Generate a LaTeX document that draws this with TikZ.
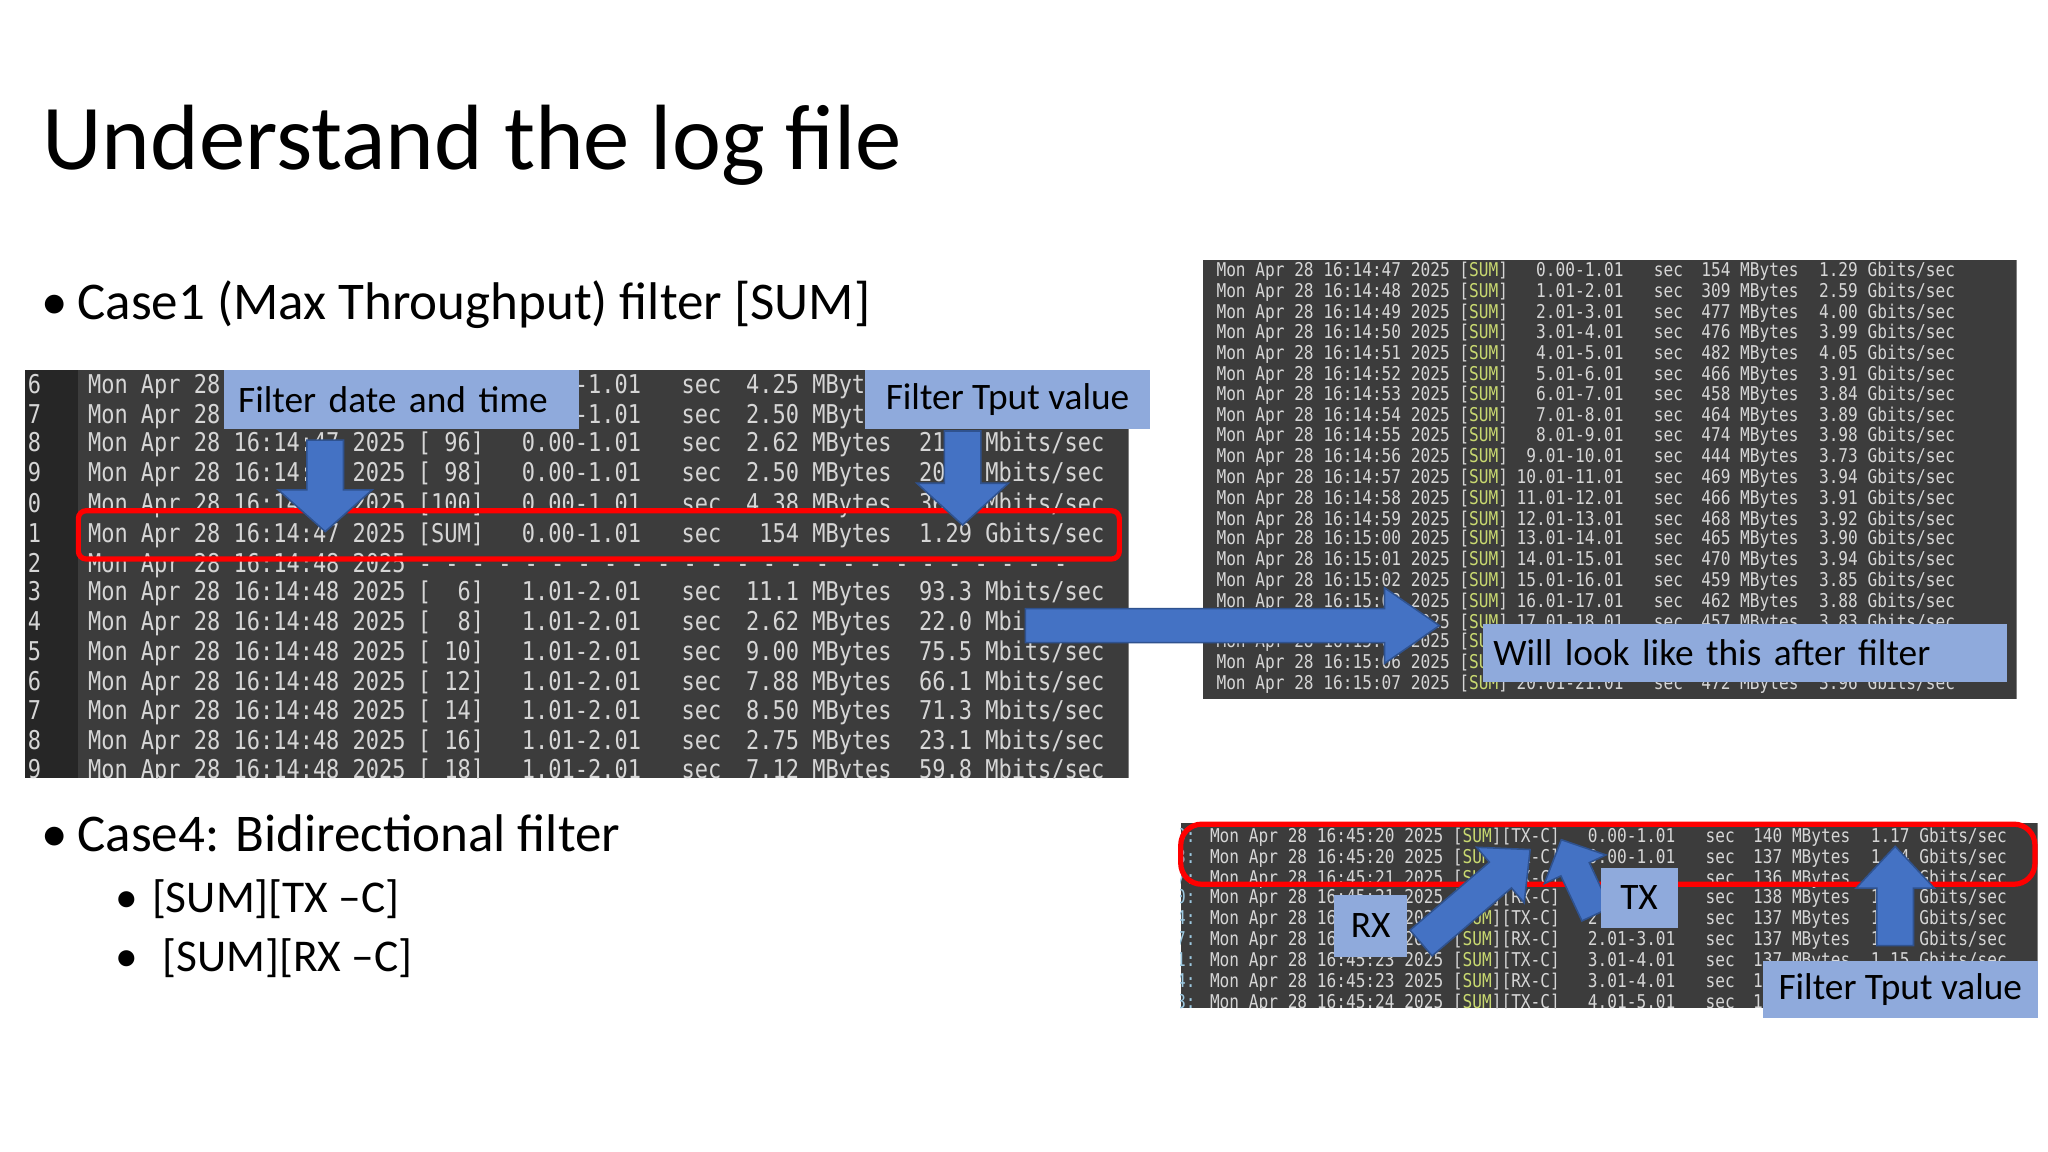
\documentclass[tikz,border=0pt]{standalone}
\usepackage{fontspec}
\setmainfont{Carlito}
\newfontfamily\logf[FakeStretch=0.85]{DejaVu Sans Mono}
\definecolor{logbg}{HTML}{3C3C3C}
\definecolor{logtxt}{HTML}{D6D6D6}
\definecolor{sumc}{HTML}{C8D870}
\definecolor{numc}{HTML}{9CC8E0}
\definecolor{lblue}{HTML}{8FAADC}
\definecolor{abl}{HTML}{4472C4}
\definecolor{abd}{HTML}{2F528F}
\tikzset{
 lt/.style={font=\logf\fontsize{9.9}{10}\selectfont,text=logtxt,inner sep=0pt},
 st/.style={font=\logf\fontsize{7.27}{8}\selectfont,text=logtxt,inner sep=0pt},
 lbl/.style={fill=lblue,inner sep=0pt,font=\fontsize{14.3}{16}\selectfont,text=black},
 arrowst/.style={fill=abl,draw=abd,line width=0.6pt},
 redbox/.style={draw=red,line width=2pt,rounded corners=3pt},
 big/.style={anchor=base west,inner sep=0,font=\fontsize{20.3}{22}\selectfont},
 small/.style={anchor=base west,inner sep=0,font=\fontsize{17.4}{19}\selectfont}
}
\newcommand\Lrow[7]{%
 \node[lt,anchor=base west] at (21,#1) {#2};
 \node[lt,anchor=base west] at (67,#1) {#3};
 \node[lt,anchor=base west] at ({67+25*10.1},#1) {#4};
 \node[lt,anchor=base east] at ({67+42*10.1},#1) {#5};
 \node[lt,anchor=base west] at ({67+45*10.1},#1) {sec};
 \node[lt,anchor=base east] at ({67+61*10.1},#1) {#6};
 \node[lt,anchor=base west] at ({67+63*10.1},#1) {#7};}
\newcommand\Rrow[5]{%
 \node[st,anchor=base west] at (931,#1) {Mon Apr 28 #2 2025};
 \node[st,anchor=base west] at ({931+25*7.44},#1) {[\textcolor{sumc}{SUM}]};
 \node[st,anchor=base east] at ({931+42*7.44},#1) {#3};
 \node[st,anchor=base west] at ({931+45*7.44},#1) {sec};
 \node[st,anchor=base east] at ({931+60*7.44},#1) {#4 MBytes};
 \node[st,anchor=base west] at ({931+62*7.44},#1) {#5 Gbits/sec};}
\newcommand\Brow[7]{%
 \node[st,anchor=base west,text=numc] at (900,#1) {#2};
 \node[st,anchor=base west] at (926,#1) {Mon Apr 28 #3 2025};
 \node[st,anchor=base west] at ({926+25*7.44},#1) {[\textcolor{sumc}{SUM}][#4]};
 \node[st,anchor=base east] at ({926+48*7.44},#1) {#5};
 \node[st,anchor=base west] at ({926+51*7.44},#1) {sec};
 \node[st,anchor=base east] at ({926+66*7.44},#1) {#6 MBytes};
 \node[st,anchor=base west] at ({926+68*7.44},#1) {#7 Gbits/sec};}
\newcommand\barrow[7]{%
 \begin{scope}[shift={(#1,#2)},rotate=#3]
 \filldraw[arrowst] (0,-#5)--({#4-#7},-#5)--({#4-#7},-#6)--(#4,0)--({#4-#7},#6)--({#4-#7},#5)--(0,#5)--cycle;
 \end{scope}}
\begin{document}
\begin{tikzpicture}[x=0.5pt,y=-0.5pt]
\useasboundingbox[fill=white] (0,0) rectangle (1568,882);
\node[anchor=base west,inner sep=0,font=\fontsize{35.5}{40}\selectfont] (title) at (32,130) {Understand the log file};
\node[big] (b1d) at (31,245) {•};
\node[big] (b1) at (59,245) {Case1 (Max Throughput) filter [SUM]};
\node[big] (b2d) at (31,652) {•};
\node[big] (b2) at (59,652) {Case4: Bidirectional filter};
\node[small] (b3d) at (88,699) {•};
\node[small] (b3) at (116,699) {[SUM][TX –C]};
\node[small] (b4d) at (88,744) {•};
\node[small] (b4) at (124,744) {[SUM][RX –C]};
\begin{scope}
\clip (19,283) rectangle (864,596);
\fill[logbg] (19,283) rectangle (864,596);
\fill[black!85] (19,283) rectangle (60,596);
\Lrow{301}{6}{Mon Apr 28 16:14:47 2025}{[~92]}{0.00-1.01}{4.25 MBytes}{35.6 Mbits/sec}
\Lrow{324}{7}{Mon Apr 28 16:14:47 2025}{[~94]}{0.00-1.01}{2.50 MBytes}{20.9 Mbits/sec}
\Lrow{346}{8}{Mon Apr 28 16:14:47 2025}{[~96]}{0.00-1.01}{2.62 MBytes}{21.9 Mbits/sec}
\Lrow{369}{9}{Mon Apr 28 16:14:47 2025}{[~98]}{0.00-1.01}{2.50 MBytes}{20.9 Mbits/sec}
\Lrow{392}{0}{Mon Apr 28 16:14:47 2025}{[100]}{0.00-1.01}{4.38 MBytes}{36.6 Mbits/sec}
\Lrow{415}{1}{Mon Apr 28 16:14:47 2025}{[SUM]}{0.00-1.01}{154 MBytes}{1.29 Gbits/sec}
\node[lt,anchor=base west] at (21,438) {2};
\node[lt,anchor=base west] at (67,438) {Mon Apr 28 16:14:48 2025 - - - - - - - - - - - - - - - - - - - - - - - - -};
\Lrow{460}{3}{Mon Apr 28 16:14:48 2025}{[~~6]}{1.01-2.01}{11.1 MBytes}{93.3 Mbits/sec}
\Lrow{483}{4}{Mon Apr 28 16:14:48 2025}{[~~8]}{1.01-2.01}{2.62 MBytes}{22.0 Mbits/sec}
\Lrow{506}{5}{Mon Apr 28 16:14:48 2025}{[~10]}{1.01-2.01}{9.00 MBytes}{75.5 Mbits/sec}
\Lrow{529}{6}{Mon Apr 28 16:14:48 2025}{[~12]}{1.01-2.01}{7.88 MBytes}{66.1 Mbits/sec}
\Lrow{551}{7}{Mon Apr 28 16:14:48 2025}{[~14]}{1.01-2.01}{8.50 MBytes}{71.3 Mbits/sec}
\Lrow{574}{8}{Mon Apr 28 16:14:48 2025}{[~16]}{1.01-2.01}{2.75 MBytes}{23.1 Mbits/sec}
\Lrow{596}{9}{Mon Apr 28 16:14:48 2025}{[~18]}{1.01-2.01}{7.12 MBytes}{59.8 Mbits/sec}
\end{scope}
\draw[redbox] (60,391) rectangle (857,428);
\begin{scope}
\clip (921,199) rectangle (1544,535);
\fill[logbg] (921,199) rectangle (1544,535);
\Rrow{212}{16:14:47}{0.00-1.01}{154}{1.29}
\Rrow{228}{16:14:48}{1.01-2.01}{309}{2.59}
\Rrow{244}{16:14:49}{2.01-3.01}{477}{4.00}
\Rrow{259}{16:14:50}{3.01-4.01}{476}{3.99}
\Rrow{275}{16:14:51}{4.01-5.01}{482}{4.05}
\Rrow{291}{16:14:52}{5.01-6.01}{466}{3.91}
\Rrow{307}{16:14:53}{6.01-7.01}{458}{3.84}
\Rrow{323}{16:14:54}{7.01-8.01}{464}{3.89}
\Rrow{338}{16:14:55}{8.01-9.01}{474}{3.98}
\Rrow{354}{16:14:56}{9.01-10.01}{444}{3.73}
\Rrow{370}{16:14:57}{10.01-11.01}{469}{3.94}
\Rrow{386}{16:14:58}{11.01-12.01}{466}{3.91}
\Rrow{402}{16:14:59}{12.01-13.01}{468}{3.92}
\Rrow{417}{16:15:00}{13.01-14.01}{465}{3.90}
\Rrow{433}{16:15:01}{14.01-15.01}{470}{3.94}
\Rrow{449}{16:15:02}{15.01-16.01}{459}{3.85}
\Rrow{465}{16:15:03}{16.01-17.01}{462}{3.88}
\Rrow{481}{16:15:04}{17.01-18.01}{457}{3.83}
\Rrow{496}{16:15:05}{18.01-19.01}{466}{3.91}
\Rrow{512}{16:15:06}{19.01-20.01}{468}{3.93}
\Rrow{528}{16:15:07}{20.01-21.01}{472}{3.96}
\end{scope}
\begin{scope}
\clip (904,630) rectangle (1560,772);
\fill[logbg] (904,630) rectangle (1560,772);
\Brow{645}{0:}{16:45:20}{TX-C}{0.00-1.01}{140}{1.17}
\Brow{661}{3:}{16:45:20}{RX-C}{0.00-1.01}{137}{1.14}
\Brow{677}{7:}{16:45:21}{TX-C}{1.01-2.01}{136}{1.14}
\Brow{692}{0:}{16:45:21}{RX-C}{1.01-2.01}{138}{1.15}
\Brow{708}{4:}{16:45:22}{TX-C}{2.01-3.01}{137}{1.15}
\Brow{724}{7:}{16:45:22}{RX-C}{2.01-3.01}{137}{1.15}
\Brow{740}{1:}{16:45:23}{TX-C}{3.01-4.01}{137}{1.15}
\Brow{756}{4:}{16:45:23}{RX-C}{3.01-4.01}{137}{1.15}
\Brow{772}{8:}{16:45:24}{TX-C}{4.01-5.01}{137}{1.15}
\end{scope}
\draw[redbox,rounded corners=8pt] (904,631) rectangle (1558,677);
\barrow{249}{337}{-90}{70}{14}{36}{32}
\barrow{737}{330}{-90}{72}{14}{35}{32}
\barrow{785}{479}{0}{317}{13}{29}{42}
\barrow{1451}{724}{90}{76}{14}{30}{32}
\barrow{1222}{700}{115}{63}{12}{26}{25}
\barrow{1088}{722}{40.6}{110}{13}{28}{30}
\node[lbl,minimum width=272*0.5pt,minimum height=45*0.5pt,anchor=north west,text width=250*0.5pt,align=left] (ldt) at (171,283) {Filter date and time};
\node[lbl,minimum width=218*0.5pt,minimum height=45*0.5pt,anchor=north west] (ltp) at (662,283) {Filter Tput value};
\node[lbl,minimum width=401*0.5pt,minimum height=45*0.5pt,anchor=north west,text width=385*0.5pt,align=left] (lwl) at (1135,477) {Will look like this after filter};
\node[lbl,minimum width=56*0.5pt,minimum height=47*0.5pt,anchor=north west] (lrx) at (1021,685) {RX};
\node[lbl,minimum width=59*0.5pt,minimum height=46*0.5pt,anchor=north west] (ltx) at (1225,664) {TX};
\node[lbl,minimum width=211*0.5pt,minimum height=44*0.5pt,anchor=north west] (ltp2) at (1349,735) {Filter Tput value};
\end{tikzpicture}
\end{document}
